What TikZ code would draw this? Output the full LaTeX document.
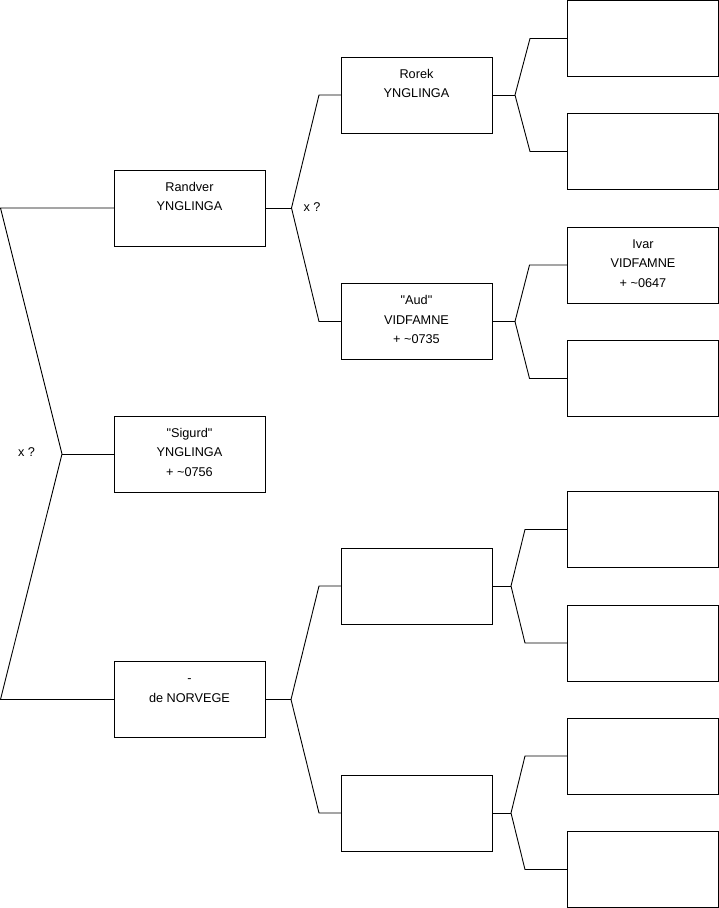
\documentclass[tikz,border=0pt]{standalone}
\usepackage{fontspec}
\setmainfont{Liberation Sans}[Ligatures=TeXOff]
\begin{document}
\begin{tikzpicture}[x=1pt,y=-1pt,
  box/.style={draw=black,line width=0.9pt,minimum width=151pt,minimum height=76pt,inner sep=0pt,outer sep=0pt},
  txt/.style={anchor=north,inner sep=0pt,align=center,font=\fontsize{12.7}{19.5}\selectfont},
  lbl/.style={inner sep=0pt,font=\fontsize{12.7}{15}\selectfont},
  conn/.style={draw=black,line width=0.9pt,line join=miter}]
\useasboundingbox (0,0) rectangle (719,908);
% level 1
\node[box] (ra) at (189.5,208) {};
\node[box] (si) at (189.5,454) {};
\node[box] (no) at (189.5,699.5) {};
% level 2
\node[box] (ro) at (416.5,95) {};
\node[box] (au) at (416.5,321.5) {};
\node[box] (n1) at (416.5,586) {};
\node[box] (n2) at (416.5,813) {};
% level 3
\node[box] (a1) at (643,38.5) {};
\node[box] (a2) at (643,151.5) {};
\node[box] (a3) at (643,265) {};
\node[box] (a4) at (643,378.5) {};
\node[box] (a5) at (643,529.5) {};
\node[box] (a6) at (643,643) {};
\node[box] (a7) at (643,756) {};
\node[box] (a8) at (643,869.5) {};
% texts
\node[txt] (tra) at ([yshift=-11pt]ra.north) {\rule{0pt}{10pt}Randver\\YNGLINGA};
\node[txt] (tsi) at ([yshift=-11pt]si.north) {\rule{0pt}{10pt}"Sigurd"\\YNGLINGA\\+ \textasciitilde0756};
\node[txt] (tno) at ([yshift=-11pt]no.north) {\rule{0pt}{10pt}-\\de NORVEGE};
\node[txt] (tro) at ([yshift=-11pt]ro.north) {\rule{0pt}{10pt}Rorek\\YNGLINGA};
\node[txt] (tau) at ([yshift=-11pt]au.north) {\rule{0pt}{10pt}"Aud"\\VIDFAMNE\\+ \textasciitilde0735};
\node[txt] (ta3) at ([yshift=-11pt]a3.north) {\rule{0pt}{10pt}Ivar\\VIDFAMNE\\+ \textasciitilde0647};
% bracket points
\coordinate (r0) at (0.5,208);
\coordinate (rv) at (62,454);
\coordinate (r1) at (0.5,699.5);
\coordinate (v1) at (291.5,208);
\coordinate (c1a) at (319,95);
\coordinate (c1b) at (319,321.5);
\coordinate (v2) at (515,95);
\coordinate (c2a) at (530,38.5);
\coordinate (c2b) at (530,151.5);
\coordinate (v3) at (515,321.5);
\coordinate (c3a) at (529.5,265);
\coordinate (c3b) at (529.5,378.5);
\coordinate (v4) at (291,699.5);
\coordinate (c4a) at (319,586);
\coordinate (c4b) at (319,813);
\coordinate (v5) at (511,586);
\coordinate (c5a) at (525,529.5);
\coordinate (c5b) at (525,643);
\coordinate (v6) at (511,813);
\coordinate (c6a) at (525,756);
\coordinate (c6b) at (525,869.5);
% connectors
\draw[conn] (ra.west) -- (r0) -- (rv) -- (r1) -- (no.west);
\draw[conn] (rv) -- (si.west);
\draw[conn] (ra.east) -- (v1);
\draw[conn] (ro.west) -- (c1a) -- (v1) -- (c1b) -- (au.west);
\draw[conn] (ro.east) -- (v2);
\draw[conn] (a1.west) -- (c2a) -- (v2) -- (c2b) -- (a2.west);
\draw[conn] (au.east) -- (v3);
\draw[conn] (a3.west) -- (c3a) -- (v3) -- (c3b) -- (a4.west);
\draw[conn] (no.east) -- (v4);
\draw[conn] (n1.west) -- (c4a) -- (v4) -- (c4b) -- (n2.west);
\draw[conn] (n1.east) -- (v5);
\draw[conn] (a5.west) -- (c5a) -- (v5) -- (c5b) -- (a6.west);
\draw[conn] (n2.east) -- (v6);
\draw[conn] (a7.west) -- (c6a) -- (v6) -- (c6b) -- (a8.west);
% labels
\node[lbl] (x1) at (26.5,452) {x ?};
\node[lbl] (x2) at (312,207) {x ?};
\end{tikzpicture}
\end{document}
